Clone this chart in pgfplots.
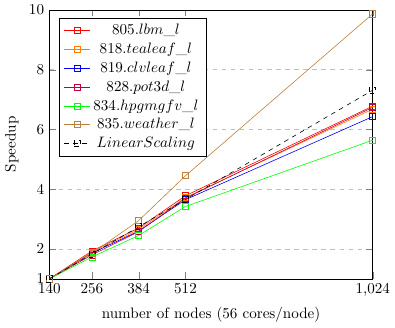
\documentclass[border=0pt]{standalone}
\usepackage{pgfplots}
\pgfplotsset{compat=1.18}
\begin{document}
\begin{tikzpicture}
\begin{axis}[
  scale only axis,
  width=214pt, height=178pt,
  xmin=140, xmax=1024, ymin=1, ymax=10,
  xtick={140,256,384,512,1024},
  ytick={1,2,4,6,8,10},
  ymajorgrids, grid style={dashed,gray!50},
  xlabel={number of nodes (56 cores/node)},
  ylabel={Speedup},
  legend style={at={(0.03,0.97)},anchor=north west},
]
\addplot[red, mark=square] coordinates {(140,1) (256,1.93) (384,2.70) (512,3.78) (1024,6.78)};
\addlegendentry{$805.lbm\_l$}
\addplot[orange, mark=square] coordinates {(140,1) (256,1.90) (384,2.65) (512,3.72) (1024,6.68)};
\addlegendentry{$818.tealeaf\_l$}
\addplot[blue, mark=square] coordinates {(140,1) (256,1.86) (384,2.60) (512,3.65) (1024,6.43)};
\addlegendentry{$819.clvleaf\_l$}
\addplot[purple, mark=square] coordinates {(140,1) (256,1.80) (384,2.58) (512,3.70) (1024,6.74)};
\addlegendentry{$828.pot3d\_l$}
\addplot[green, mark=square] coordinates {(140,1) (256,1.73) (384,2.45) (512,3.42) (1024,5.64)};
\addlegendentry{$834.hpgmgfv\_l$}
\addplot[brown, mark=square] coordinates {(140,1) (256,1.85) (384,2.95) (512,4.45) (1024,9.87)};
\addlegendentry{$835.weather\_l$}
\addplot[black, dashed, mark=square] coordinates {(140,1) (256,1.829) (384,2.743) (512,3.657) (1024,7.314)};
\addlegendentry{$LinearScaling$}
\end{axis}
\end{tikzpicture}
\end{document}
